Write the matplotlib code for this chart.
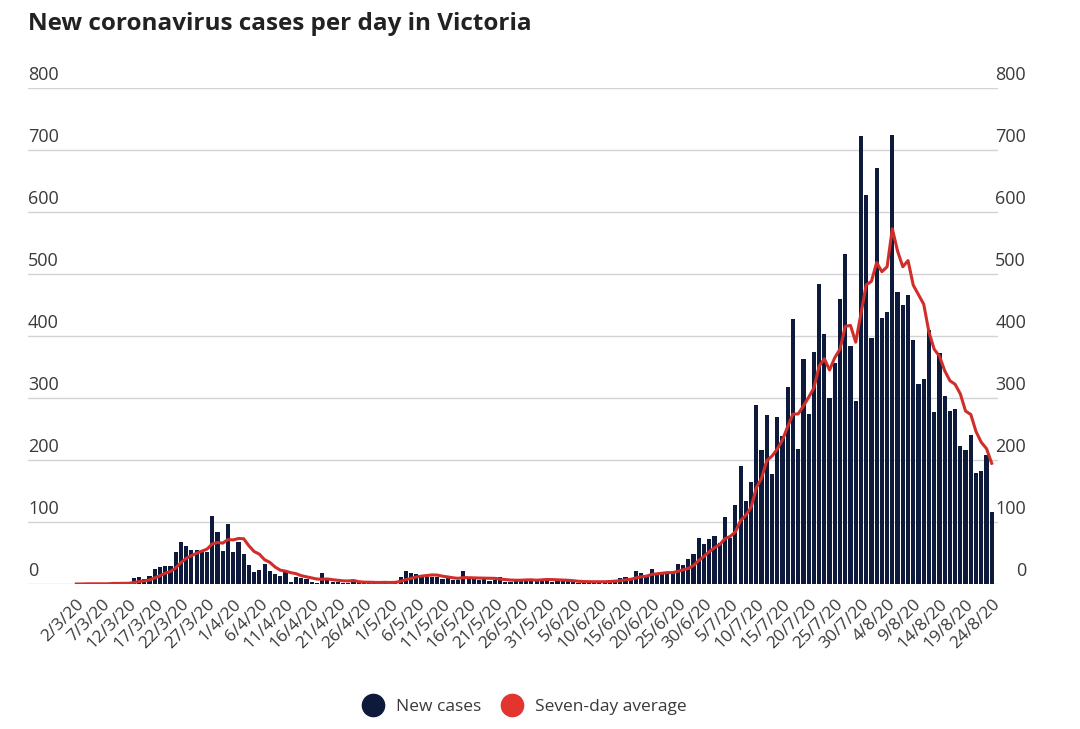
import numpy as np
import matplotlib
matplotlib.use("Agg")
import matplotlib.pyplot as plt
import matplotlib.transforms as mtransforms
from matplotlib.lines import Line2D

# daily new cases, 2/3/20 .. 24/8/20 (one value per day)
cases = [
    0, 0, 1, 0, 1, 0, 0, 4, 0, 3, 0, 9, 12, 8, 13, 24, 27, 29, 29, 51,
    68, 61, 55, 55, 52, 52, 110, 84, 53, 96,                      # March
    51, 68, 49, 30, 20, 23, 33, 21, 16, 13, 19, 3, 12, 10, 8, 3, 1, 17, 6, 3,
    4, 2, 1, 7, 3, 1, 2, 2, 1, 3,                                 # April
    5, 5, 12, 21, 17, 16, 13, 12, 11, 11, 8, 9, 6, 7, 21, 9, 8, 7, 8, 5,
    6, 12, 4, 3, 5, 8, 8, 7, 8, 8, 7,                             # May
    4, 5, 5, 5, 3, 2, 3, 3, 4, 5, 5, 6, 6, 9, 12, 10, 21, 18, 13, 25,
    16, 19, 17, 20, 33, 30, 41, 49, 75, 64,                       # June
    73, 77, 66, 108, 74, 127, 191, 134, 165, 288, 216, 273, 177, 270, 238, 317,
    428, 217, 363, 275, 374, 484, 403, 300, 357, 459, 532, 384, 295, 723, 627,  # July
    397, 671, 429, 439, 725, 471, 450, 466, 394, 322, 331, 410, 278, 372, 303,
    279, 282, 222, 216, 240, 179, 182, 208, 116,                  # August
]

# seven-day average as drawn (red line)
avg7 = [
    0, 0, 0.3, 0.3, 0.4, 0.3, 0.3, 0.9, 0.9, 1.1, 1.1, 2.3, 4.0, 5.1, 6.4, 9.9,
    13.3, 17.4, 20.3, 25.9, 34.4, 41.3, 45.7, 49.7, 53.0, 56.3, 64.7, 67.0, 65.9, 71.7,
    71.1, 73.4, 73.0, 61.6, 52.4, 48.1, 39.1, 34.9, 27.4, 22.3, 20.7, 18.3, 16.7, 13.4,
    11.6, 9.7, 8.0, 7.7, 8.1, 6.9, 6.0, 5.1, 4.9, 5.7, 3.7, 3.0, 2.9, 2.6, 2.4, 2.7,
    2.4, 2.7, 4.3, 7.0, 9.1, 11.3, 12.7, 13.7, 14.6, 14.4, 12.6, 11.4, 10.0, 9.1, 10.4,
    10.1, 9.7, 9.6, 9.4, 9.3, 9.1, 7.9, 7.1, 6.4, 6.1, 6.1, 6.6, 6.7, 6.1, 6.7, 7.3,
    7.1, 6.7, 6.3, 6.0, 5.3, 4.4, 3.9, 3.7, 3.6, 3.6, 3.6, 4.0, 4.6, 5.4, 6.7, 7.6,
    9.9, 11.7, 12.7, 15.4, 16.4, 17.4, 18.4, 18.3, 20.4, 22.9, 25.1, 29.9, 37.9, 44.6,
    52.1, 58.4, 63.6, 73.1, 76.7, 84.1, 102.3, 111.0, 123.6, 155.3, 170.7, 199.1, 206.3,
    217.6, 232.4, 254.1, 274.1, 274.3, 287.1, 301.1, 316.0, 351.1, 363.4, 345.1, 365.1,
    378.9, 415.6, 417.0, 390.0, 435.7, 482.4,
    488.1, 518.4, 503.7, 511.6, 573.0, 537.0, 511.7, 521.6, 482.0, 466.7, 451.3, 406.3,
    378.7, 367.6, 344.3, 327.9, 322.1, 306.6, 278.9, 273.4, 245.9, 228.6, 218.4, 194.7,
]

tick_pos = list(range(0, 176, 5))
tick_labels = [
    "2/3/20", "7/3/20", "12/3/20", "17/3/20", "22/3/20", "27/3/20", "1/4/20", "6/4/20",
    "11/4/20", "16/4/20", "21/4/20", "26/4/20", "1/5/20", "6/5/20", "11/5/20", "16/5/20",
    "21/5/20", "26/5/20", "31/5/20", "5/6/20", "10/6/20", "15/6/20", "20/6/20", "25/6/20",
    "30/6/20", "5/7/20", "10/7/20", "15/7/20", "20/7/20", "25/7/20", "30/7/20", "4/8/20",
    "9/8/20", "14/8/20", "19/8/20", "24/8/20",
]
y_ticks = [0, 100, 200, 300, 400, 500, 600, 700, 800]

navy = "#0e1a3b"
red = "#d02e2b"
txt = "#3a3a3a"

plt.rcParams["font.family"] = ["Open Sans", "DejaVu Sans"]

fig = plt.figure(figsize=(10.8, 7.29), dpi=100)
W, H = 1080, 729
ax = fig.add_axes([28 / W, 1 - 584 / H, (998 - 28) / W, (584 - 88) / H])

x = np.arange(len(cases))
ax.bar(x, cases, width=0.8, color=navy, linewidth=0, zorder=2)
ax.plot(np.arange(len(avg7)), avg7, color=red, lw=2.2, zorder=3, solid_joinstyle="round")

ax.set_xlim((28 - 76.3) / 5.231, (998 - 76.3) / 5.231)
ax.set_ylim(0, 800)

# grid
ax.set_yticks(y_ticks)
ax.yaxis.grid(True, color="#d3d3d3", lw=1)
ax.set_axisbelow(True)
ax.tick_params(axis="y", length=0, labelleft=False)
for s in ax.spines.values():
    s.set_visible(False)

# y labels sit above the gridlines, on both sides
trans = mtransforms.blended_transform_factory(ax.transAxes, ax.transData)
trans = mtransforms.offset_copy(trans, fig=fig, y=4, units="dots")
for v in y_ticks:
    ax.text(0, v, str(v), transform=trans, ha="left", va="bottom", fontsize=13, color=txt)
    ax.text(1.0289, v, str(v), transform=trans, ha="right", va="bottom", fontsize=13, color=txt)

ax.set_xticks(tick_pos)
ax.set_xticklabels(tick_labels, rotation=45, ha="right", rotation_mode="anchor",
                   fontsize=12.5, color=txt)
ax.tick_params(axis="x", length=0, pad=9)

fig.text(28 / W, 1 - 24 / H, "New coronavirus cases per day in Victoria", fontsize=17.5,
         fontweight="bold", color="#222222", ha="left", va="center")

handles = [
    Line2D([], [], marker="o", ls="", color=navy, markersize=16),
    Line2D([], [], marker="o", ls="", color="#e3342f", markersize=16),
]
fig.legend(handles, ["New cases", "Seven-day average"], loc="center",
           bbox_to_anchor=(521 / W, 1 - 707 / H), ncol=2, frameon=False,
           fontsize=12.5, labelcolor=txt, handletextpad=0.3, columnspacing=0.8)

fig.savefig("out.png", dpi=100, facecolor="white")
